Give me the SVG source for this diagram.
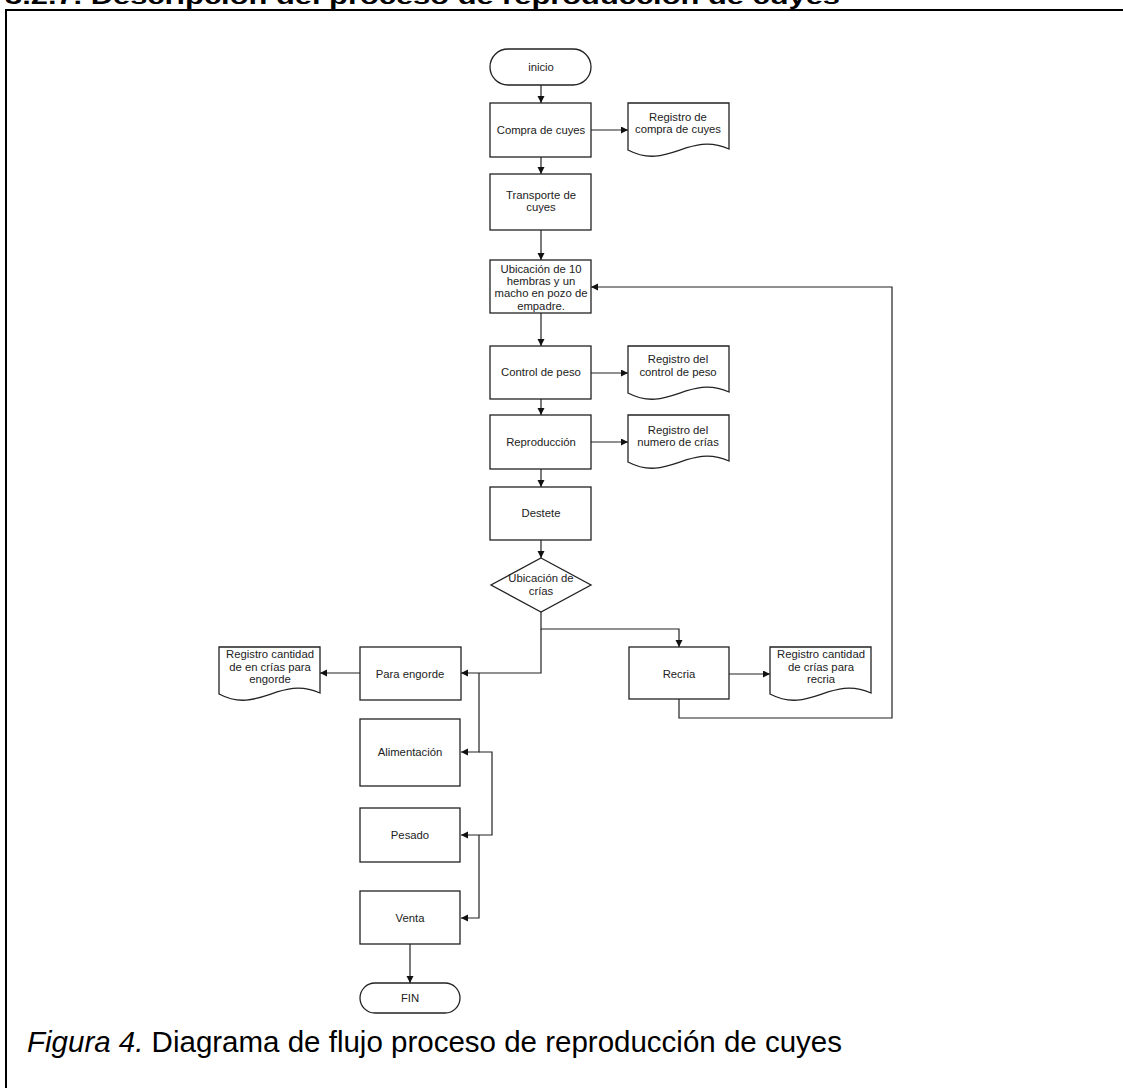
<svg xmlns="http://www.w3.org/2000/svg" width="1123" height="1088" viewBox="0 0 1123 1088">
<defs>
<style>
.box{fill:#fff;stroke:#222;stroke-width:1.3}
.t{font-family:"Liberation Sans",Arial,sans-serif;font-size:11.3px;fill:#222;text-anchor:middle}
.c{fill:none;stroke:#222;stroke-width:1.2}
.a{marker-end:url(#arr)}
</style>
<marker id="arr" markerUnits="userSpaceOnUse" markerWidth="8" markerHeight="8" refX="7" refY="3.5" orient="auto">
<path d="M0,0 L7,3.5 L0,7 z" fill="#111"/>
</marker>
<path id="doc" d="M0,0 H101 V46 C60,28 40,68 0,47 Z"/>
</defs>
<rect width="1123" height="1088" fill="#fff"/>
<text x="5" y="4" font-family="'Liberation Sans',Arial,sans-serif" font-weight="bold" font-size="22" textLength="835" lengthAdjust="spacingAndGlyphs" fill="#000">3.2.7. Descripción del proceso de reproducción de cuyes</text>
<path d="M6,1088 V10 H1123" fill="none" stroke="#000" stroke-width="2"/>

<g id="connectors">
<path class="c a" d="M541,85 V103"/>
<path class="c a" d="M541,157 V174"/>
<path class="c a" d="M591,130 H628"/>
<path class="c a" d="M541,230 V260"/>
<path class="c a" d="M541,313 V346"/>
<path class="c a" d="M591,373 H628"/>
<path class="c a" d="M541,399 V415"/>
<path class="c a" d="M591,442 H628"/>
<path class="c a" d="M541,469 V487"/>
<path class="c a" d="M541,540 V558"/>
<path class="c a" d="M541,612 V629 H679 V647"/>
<path class="c a" d="M541,629 V673 H461"/>
<path class="c a" d="M360,673 H320"/>
<path class="c a" d="M479,673 V752 H461"/>
<path class="c a" d="M479,752 H492 V835 H461"/>
<path class="c a" d="M479,835 V918 H461"/>
<path class="c a" d="M410,944 V983"/>
<path class="c a" d="M729,674 H770"/>
<path class="c a" d="M679,699 V718 H892 V287 H591"/>
</g>

<g id="inicio"><rect class="box" x="490" y="49" width="101" height="36" rx="18"/><text class="t" x="541" y="71">inicio</text></g>
<g id="compra"><rect class="box" x="490" y="103" width="101" height="54"/><text class="t" x="541" y="134">Compra de cuyes</text></g>
<g id="reg-compra"><use href="#doc" class="box" x="628" y="103"/><text class="t" x="678" y="121">Registro de</text><text class="t" x="678" y="133">compra de cuyes</text></g>
<g id="transporte"><rect class="box" x="490" y="174" width="101" height="56"/><text class="t" x="541" y="199">Transporte de</text><text class="t" x="541" y="211">cuyes</text></g>
<g id="ubicacion"><rect class="box" x="490" y="260" width="101" height="53"/><text class="t" x="541" y="273">Ubicación de 10</text><text class="t" x="541" y="285">hembras y un</text><text class="t" x="541" y="297">macho en pozo de</text><text class="t" x="541" y="310">empadre.</text></g>
<g id="control"><rect class="box" x="490" y="346" width="101" height="53"/><text class="t" x="541" y="376">Control de peso</text></g>
<g id="reg-control"><use href="#doc" class="box" x="628" y="346"/><text class="t" x="678" y="363">Registro del</text><text class="t" x="678" y="376">control de peso</text></g>
<g id="reproduccion"><rect class="box" x="490" y="415" width="101" height="54"/><text class="t" x="541" y="446">Reproducción</text></g>
<g id="reg-numero"><use href="#doc" class="box" x="628" y="415"/><text class="t" x="678" y="434">Registro del</text><text class="t" x="678" y="446">numero de crías</text></g>
<g id="destete"><rect class="box" x="490" y="487" width="101" height="53"/><text class="t" x="541" y="517">Destete</text></g>
<g id="ubicacion-crias"><path class="box" d="M541,558 L591,585 L541,612 L491,585 Z"/><text class="t" x="541" y="582">Ubicación de</text><text class="t" x="541" y="595">crías</text></g>
<g id="para-engorde"><rect class="box" x="360" y="647" width="101" height="53"/><text class="t" x="410" y="678">Para engorde</text></g>
<g id="reg-engorde"><use href="#doc" class="box" x="219" y="647"/><text class="t" x="270" y="658">Registro cantidad</text><text class="t" x="270" y="671">de en crías para</text><text class="t" x="270" y="683">engorde</text></g>
<g id="recria"><rect class="box" x="629" y="647" width="100" height="52"/><text class="t" x="679" y="678">Recria</text></g>
<g id="reg-recria"><use href="#doc" class="box" x="770" y="647"/><text class="t" x="821" y="658">Registro cantidad</text><text class="t" x="821" y="671">de crías para</text><text class="t" x="821" y="683">recria</text></g>
<g id="alimentacion"><rect class="box" x="360" y="719" width="100" height="67"/><text class="t" x="410" y="756">Alimentación</text></g>
<g id="pesado"><rect class="box" x="360" y="808" width="100" height="54"/><text class="t" x="410" y="839">Pesado</text></g>
<g id="venta"><rect class="box" x="360" y="891" width="100" height="53"/><text class="t" x="410" y="922">Venta</text></g>
<g id="fin"><rect class="box" x="360" y="983" width="100" height="30" rx="15"/><text class="t" x="410" y="1002" font-size="10">FIN</text></g>

<text x="27" y="1052" font-family="'Liberation Sans',Arial,sans-serif" font-size="29.5" fill="#000"><tspan font-style="italic">Figura 4.</tspan> Diagrama de flujo proceso de reproducción de cuyes</text>
</svg>
